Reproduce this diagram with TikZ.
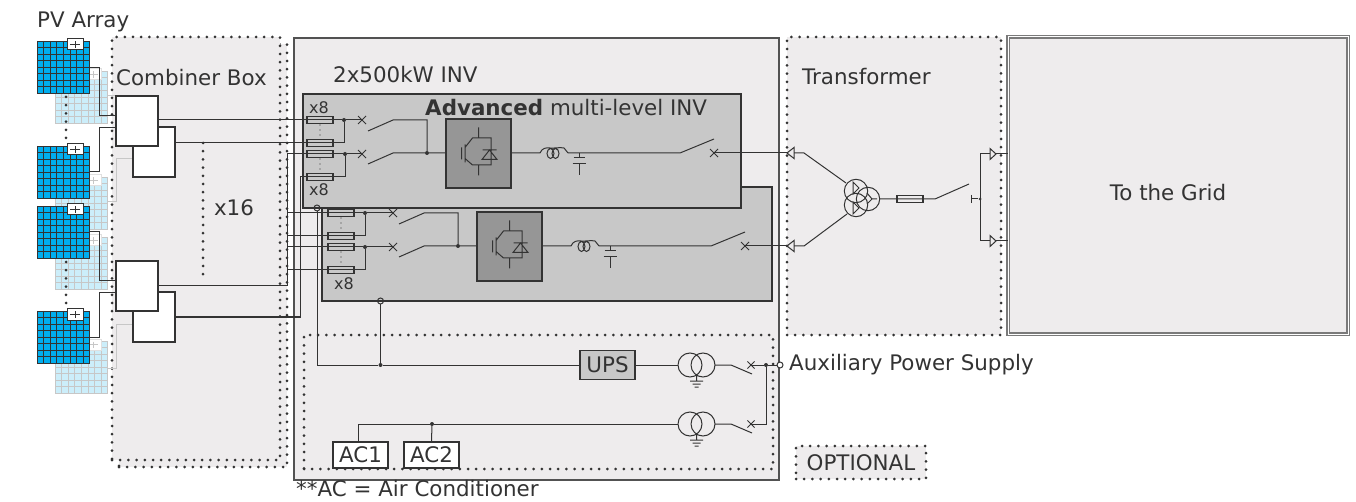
\documentclass[tikz,border=0pt]{standalone}
\usepackage{fontspec}
\setmainfont{DejaVu Sans}
\definecolor{boxgray}{HTML}{EEECED}
\definecolor{invgray}{HTML}{C8C8C8}
\definecolor{igbtgray}{HTML}{969696}
\definecolor{panelblue}{HTML}{00AEEF}
\definecolor{panelpale}{HTML}{CCEEFA}
\definecolor{wirecol}{HTML}{333333}
\tikzset{
  wire/.style={draw=wirecol, line width=1pt},
  dotbox/.style={dash pattern=on 0pt off 8.2pt, line cap=round, line width=3pt, draw=wirecol},
  txtlbl/.style={text=wirecol, font=\fontsize{21.4}{25}\selectfont, inner sep=0pt},
  smalllbl/.style={text=wirecol, font=\fontsize{16}{19}\selectfont, inner sep=0pt},
  whitebox/.style={draw=wirecol, fill=white, line width=1.2pt, inner sep=0pt, outer sep=0pt},
  fuse/.style={draw=wirecol, fill=invgray, line width=1.1pt, minimum width=26pt, minimum height=7.5pt, inner sep=0pt, outer sep=0pt},
  igbtbox/.style={draw=wirecol, fill=igbtgray, line width=1.1pt, minimum width=65pt, minimum height=69pt, inner sep=0pt, outer sep=0pt},
  junct/.style={circle, fill=wirecol, minimum size=4pt, inner sep=0pt},
  hollow/.style={circle, draw=wirecol, fill=none, line width=1pt, minimum size=6pt, inner sep=0pt},
  pics/panel/.style n args={3}{code={
    \fill[#1] (0,0) rectangle (53,52);
    \foreach \k in {0,...,8} {
      \draw[#2, line width=.8pt] (6.6*\k,0) -- (6.6*\k,52);
      \draw[#2, line width=.8pt] (0,6.5*\k) -- (53,6.5*\k);
    }
    \draw[#3, fill=white, line width=1pt] (30,-2) rectangle (46,9);
    \draw[#2, line width=.9pt] (33,3.5) -- (43,3.5) (38,.5) -- (38,7);
  }},
  pics/xmark/.style={code={
    \draw[wirecol, line width=1pt] (-4,-4) -- (4,4) (-4,4) -- (4,-4);
  }},
  pics/igbt/.style={code={
    \draw[wirecol, line width=1pt]
      (-17,-6) -- (-17,6)
      (-13.5,-9) -- (-13.5,9)
      (-13.5,-6) -- (-6,-15.5) -- (12.5,-15.5) -- (12.5,11.5) -- (-6,11.5) -- (-13.5,5)
      (0,-26) -- (0,-15.5) (0,11.5) -- (0,22)
      (4,-3.5) -- (18,-3.5)
      (11,-3.5) -- (3.5,6) -- (18.5,6) -- cycle;
  }},
  pics/coil/.style={code={
    \draw[wirecol, line width=1pt]
      (0,0) .. controls (2,-5) and (6,-5.5) .. (10,-5)
      .. controls (14,-4.5) and (20,-6) .. (24,-5) .. controls (26,-4) and (26,-1) .. (28,0)
      (10.5,.5) ellipse (3.5 and 5) (15.5,.5) ellipse (3.5 and 5);
  }},
  pics/capac/.style={code={
    \draw[wirecol, line width=1pt]
      (0,0) -- (0,5) (-5.5,5) -- (5.5,5)
      (-6.5,11) -- (6.5,11) (0,11) -- (0,22);
  }},
  pics/xfmr/.style={code={
    \draw[wirecol, line width=1pt] (0,0) circle (12) (13,0) circle (12)
      (6.5,10) -- (6.5,16)
      (0,16) -- (13,16) (2.5,19) -- (10.5,19) (4.5,22) -- (8.5,22);
  }},
  pics/triL/.style={code={
    \draw[wirecol, line width=1pt] (0,0) -- (7,-5.5) -- (7,5.5) -- cycle;
  }},
  pics/triR/.style={code={
    \draw[wirecol, line width=1pt] (6,0) -- (0,-5.5) -- (0,5.5) -- cycle;
  }}
}
\begin{document}
\begin{tikzpicture}[x=1pt, y=-1pt]
\useasboundingbox (0,0) rectangle (1356,502);

% PV array and combiner boxes
\foreach \py in {71,177,237,341} \pic at (55,\py) {panel={panelpale}{black!22}{black!12}};
\node[draw=none, fill=boxgray, dotbox, minimum width=168pt, minimum height=423pt, outer sep=0pt] (cbback) at (203,255.5) {};
\node[draw=none, fill=boxgray, dotbox, minimum width=168pt, minimum height=423pt, outer sep=0pt] (cbfront) at (196,248.5) {};
\draw[black!22, line width=1pt] (108,202) -- (116,202) -- (116,159) -- (133,159);
\draw[black!22, line width=1pt] (108,96) -- (116,96);
\draw[black!22, line width=1pt] (108,368) -- (116,368) -- (116,324) -- (133,324);
\foreach \py in {41,146,206,311} \pic at (37,\py) {panel={panelblue}{wirecol}{wirecol}};
\draw[dotbox] (66,97) -- (66,145);
\draw[dotbox] (66,262) -- (66,308);
\draw[dotbox] (203,143) -- (203,278);

\node[whitebox, minimum width=42pt, minimum height=50pt] (cbb) at (154,152) {};
\node[whitebox, minimum width=42pt, minimum height=50pt] (cba) at (137,121) {};
\node[whitebox, minimum width=42pt, minimum height=50pt] (cbd) at (154,317) {};
\node[whitebox, minimum width=42pt, minimum height=50pt] (cbc) at (137,286) {};
\draw[wire] (90,68) -- (99,68) -- (99,116) -- (cba.west |- 0,116);
\draw[wire] (90,172) -- (99,172) -- (99,128) -- (cba.west |- 0,128);
\draw[wire] (90,232) -- (99,232) -- (99,281) -- (cbc.west |- 0,281);
\draw[wire] (90,337) -- (99,337) -- (99,293) -- (cbc.west |- 0,293);

% main enclosure and inverters
\node[draw=wirecol!85, fill=boxgray, line width=1.4pt, minimum width=485pt, minimum height=442pt, outer sep=0pt] (invmain) at (536.5,259) {};
\node[draw=wirecol, fill=invgray, line width=1.2pt, minimum width=450pt, minimum height=114pt, outer sep=0pt] (invb) at (547,244) {};
\node[draw=wirecol, fill=invgray, line width=1.2pt, minimum width=438pt, minimum height=114pt, outer sep=0pt] (inva) at (522,151) {};
\node[draw=none, fill=boxgray, dotbox, minimum width=214pt, minimum height=298pt, outer sep=0pt] (xfbox) at (894,186) {};
\node[draw=none, dotbox, minimum width=469pt, minimum height=134pt, outer sep=0pt] (auxbox) at (538.5,402) {};
\node[draw=wirecol!65, double=white, double distance=1pt, fill=boxgray, line width=1.1pt, minimum width=340pt, minimum height=297pt, outer sep=0pt] (grid) at (1178,185.5) {};
\node[draw=none, fill=boxgray, dotbox, minimum width=130pt, minimum height=33pt, outer sep=0pt] (optbox) at (861,462.5) {};

% fuses
\coordinate (busa) at (287,154);
\coordinate (busb) at (300,177);
\foreach \fn/\fx/\fy in {fa/320/120, fb/320/143, fc/320/154, fd/320/177, fe/341/213, ff/341/236, fg/341/247, fh/341/270}
  \node[fuse] (\fn) at (\fx,\fy) {};
\foreach \dx/\dy in {320/125, 320/130, 320/135, 320/159, 320/164, 320/169, 341/218, 341/223, 341/228, 341/252, 341/257, 341/262}
  \fill[wirecol] (\dx,\dy) circle (.7);

% switch points
\coordinate (xa) at (362,120);
\coordinate (xb) at (362,154);
\coordinate (xc) at (393,213);
\coordinate (xd) at (393,247);
\foreach \xn in {xa,xb,xc,xd} \pic at (\xn) {xmark};
\node[junct] (ja) at (344,120) {};
\node[junct] (jb) at (345,154) {};
\node[junct] (jc) at (365,213) {};
\node[junct] (jd) at (365,247) {};
\node[junct] (je) at (427,153) {};
\node[junct] (jf) at (458,246) {};

\node[igbtbox] (igbta) at (478.5,153.5) {};
\node[igbtbox] (igbtb) at (509.5,246.5) {};
\pic at (igbta) {igbt};
\pic at (igbtb) {igbt};

% wiring to the first inverter
\draw[wire] (cba.east |- fa) -- (fa.west);
\draw[wire] (fa.east) -- (ja) -- (xa);
\draw[wire] (cbb.east |- fb) -- (fb.west);
\draw[wire] (fb.east) -- (ja |- fb) -- (ja);
\draw[wire] (cbc.east) -- (busa |- cbc.east) -- (busa) -- (fc.west);
\draw[wire] (fc.east) -- (jb) -- (xb);
\draw[wire] (cbd.east) -- (busb |- cbd.east) -- (busb) -- (fd.west);
\draw[wire] (fd.east) -- (jb |- fd) -- (jb);
\foreach \fn in {fe,ff,fg,fh} \draw[wire] (busa |- \fn) -- (\fn.west);
\draw[wire] (fe.east) -- (jc) -- (xc);
\draw[wire] (ff.east) -- (jc |- ff) -- (jc);
\draw[wire] (fg.east) -- (jd) -- (xd);
\draw[wire] (fh.east) -- (jd |- fh) -- (jd);
\foreach \fn in {fa,fb,fc,fd,fe,ff,fg,fh} \draw[wire] (\fn.west) -- (\fn.east);

% switches
\draw[wire] (368,131) -- (393,120) -- (427,120) -- (je);
\draw[wire] (368,164) -- (393,153) -- (je) -- (igbta.west |- je);
\draw[wire] (399,224) -- (424,213) -- (458,213) -- (jf);
\draw[wire] (399,257) -- (424,246) -- (jf) -- (igbtb.west |- jf);

% output filters
\pic at (540,153) {coil};
\pic at (571,246) {coil};
\pic at (579,153) {capac};
\pic at (610,246) {capac};
\coordinate (xe) at (714,153);
\coordinate (xf) at (745,246);
\pic at (xe) {xmark};
\pic at (xf) {xmark};
\pic at (787,153) {triL};
\pic at (787,246) {triL};
\draw[wire] (igbta.east |- xe) -- (540,153) (568,153) -- (680,153) -- (714,139);
\draw[wire] (igbtb.east |- xf) -- (571,246) (599,246) -- (711,246) -- (745,232);
\draw[wire] (xe) -- (787,153);
\draw[wire] (xf) -- (787,246);

% transformer and grid
\draw[wire] (794,153) -- (804,153) -- (846,183);
\draw[wire] (794,246) -- (804,246) -- (847,214);
\draw[wirecol, line width=1pt] (856,191) circle (11.7) (856,205) circle (11.7) (868,199) circle (11.7);
\draw[wirecol, line width=1pt] (853,182) -- (859,188) -- (853,194) -- cycle
  (853,202) -- (859,208) -- (853,214) -- cycle
  (867,193) -- (872,199) -- (867,204) (872,199) -- (877,199);
\node[fuse, fill=boxgray] (fmain) at (910,199) {};
\draw[wire] (880,199) -- (fmain.west) (fmain.west) -- (fmain.east) -- (935,199) -- (969,184);
\node[junct, minimum size=3pt] (jbus) at (980,199) {};
\draw[wire] (971,195) -- (971,203) (971,199) -- (jbus);
\draw[wire] (990,154) -- (980,154) -- (980,241) -- (990,241);
\pic at (990,154) {triR};
\pic at (990,241) {triR};
\draw[wire] (996,154) -- (grid.west |- 0,154);
\draw[wire] (996,241) -- (grid.west |- 0,241);

% auxiliary supply
\node[hollow] (tapa) at (317,208) {};
\node[hollow] (tapb) at (380.5,301) {};
\node[junct] (jups) at (380.5,365) {};
\node[whitebox, fill=invgray, minimum width=55pt, minimum height=29pt, txtlbl] (ups) at (607.5,365) {UPS};
\draw[wire] (tapa) -- (317,365) -- (jups) -- (ups.west);
\draw[wire] (tapb) -- (jups);
\pic at (690,365) {xfmr};
\pic at (690,424) {xfmr};
\draw[wire] (ups.east) -- (678,365);
\draw[wire] (715,365) -- (731,365) -- (752,374);
\draw[wire] (715,424) -- (731,424) -- (752,433);
\coordinate (xg) at (751,365);
\coordinate (xh) at (751,424);
\pic[scale=.9] at (xg) {xmark};
\pic[scale=.9] at (xh) {xmark};
\node[hollow, fill=white] (auxout) at (780,365) {};
\node[junct] (jaux) at (766,365) {};
\draw[wire] (xg) -- (jaux) -- (auxout);
\draw[wire] (xh) -- (766,424) -- (jaux);
\node[whitebox, minimum width=55pt, minimum height=26pt, txtlbl] (aca) at (360.5,455) {AC1};
\node[whitebox, minimum width=55pt, minimum height=26pt, txtlbl] (acb) at (431.5,455) {AC2};
\node[junct] (jac) at (432,424) {};
\draw[wire] (aca.north -| 358,0) -- (358,424) -- (jac) -- (678,424);
\draw[wire] (jac) -- (acb.north);

% labels
\node[txtlbl, anchor=west] (pvlbl) at (37,22) {PV Array};
\node[txtlbl, anchor=west] (cblbl) at (116,78) {Combiner Box};
\node[txtlbl] (xsixteen) at (234,208) {x16};
\node[txtlbl, anchor=west] (invlbl) at (333,75) {2x500kW INV};
\node[txtlbl, anchor=west] (advlbl) at (425,108) {\textbf{Advanced} multi-level INV};
\node[txtlbl, anchor=west] (xflbl) at (802,77) {Transformer};
\node[txtlbl] (gridlbl) at (1168,193) {To the Grid};
\node[txtlbl, anchor=west] (auxlbl) at (789,365) {Auxiliary Power Supply};
\node[txtlbl] (optlbl) at (861,463) {OPTIONAL};
\node[txtlbl, anchor=west] (aclbl) at (296,489) {**AC = Air Conditioner};
\node[smalllbl] (xeighta) at (319,108) {x8};
\node[smalllbl] (xeightb) at (319,190) {x8};
\node[smalllbl] (xeightc) at (344,284) {x8};
\end{tikzpicture}
\end{document}
